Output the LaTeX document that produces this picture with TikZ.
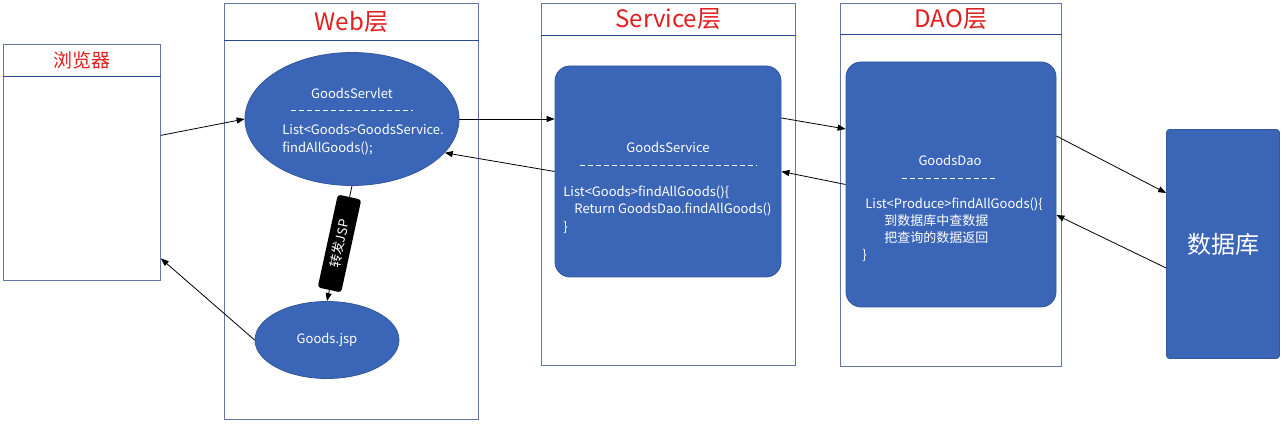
\documentclass[tikz,border=0pt]{standalone}
\usepackage{fontspec}
\setmainfont{Noto Sans CJK SC}
\usetikzlibrary{arrows.meta,shapes.geometric}

\definecolor{boxblue}{RGB}{59,102,184}
\definecolor{lanegray}{RGB}{100,118,168}
\definecolor{headblue}{RGB}{40,72,150}
\definecolor{titlered}{RGB}{226,30,30}

\begin{document}
\begin{tikzpicture}[x=1pt, y=-1pt, >={Triangle[length=8pt,width=6pt]},
  every path/.style={line width=0.8pt},
  lane/.style={draw=lanegray, line width=0.8pt, anchor=north west, inner sep=0pt},
  lanehead/.style={draw=lanegray, line width=0.8pt, anchor=north west, inner sep=0pt, text=titlered, font=\fontsize{24}{24}\selectfont},
  bluebox/.style={fill=boxblue, draw=boxblue!85!black, text=white, inner sep=0pt},
  code/.style={text=white, font=\fontsize{13}{17.5}\selectfont, align=left, anchor=north west, inner sep=0pt},
  dashsep/.style={white, dash pattern=on 5pt off 3pt, line width=0.7pt}]
\useasboundingbox (0,0) rectangle (1284,427);

% lanes
\node (browser) at (3,44) [lane, minimum width=157, minimum height=236] {};
\node (browserhead) at (3,44) [lanehead, minimum width=157, minimum height=32, font=\fontsize{19}{19}\selectfont] {浏览器};
\node (web) at (224,3) [lane, minimum width=254, minimum height=416] {};
\node (webhead) at (224,3) [lanehead, minimum width=254, minimum height=37] {Web层};
\node (service) at (541,3) [lane, minimum width=254, minimum height=362] {};
\node (servicehead) at (541,3) [lanehead, minimum width=254, minimum height=32] {Service层};
\node (dao) at (840,3) [lane, minimum width=221, minimum height=363] {};
\node (daohead) at (840,3) [lanehead, minimum width=221, minimum height=31] {DAO层};
\foreach \h in {browserhead,webhead,servicehead,daohead}
  \draw [headblue, line width=1pt] (\h.south west) -- (\h.south east);

% boxes
\node (servlet) at (352,119) [bluebox, ellipse, minimum width=214, minimum height=133] {};
\node (jsp) at (327,340) [bluebox, ellipse, minimum width=144, minimum height=77, font=\fontsize{13}{13}\selectfont] {Goods.jsp};
\node (goodsservice) at (668,171.5) [bluebox, rounded corners=15pt, minimum width=226, minimum height=211] {};
\node (goodsdao) at (951,184.5) [bluebox, rounded corners=15pt, minimum width=210, minimum height=245] {};
\node (db) at (1223,244) [bluebox, rounded corners=3pt, minimum width=113, minimum height=229, font=\fontsize{24}{24}\selectfont] {数据库};

% texts in the boxes
\node (servlettitle) at (352,93) [text=white, font=\fontsize{13}{13}\selectfont] {GoodsServlet};
\draw [dashsep] (291,110) -- (413,110);
\node (servletcode) at (282,124) [code] {List<Goods>GoodsService.\\findAllGoods();};
\node (servicetitle) at (668,147) [text=white, font=\fontsize{13}{13}\selectfont] {GoodsService};
\draw [dashsep] (580,165) -- (757,165);
\node (servicecode) at (563,185) [code] {List<Goods>findAllGoods()\{\\\hspace*{11pt}Return GoodsDao.findAllGoods()\\\}};
\node (daotitle) at (950,160) [text=white, font=\fontsize{13}{13}\selectfont] {GoodsDao};
\draw [dashsep] (902,178) -- (997,178);
\node (daocode) at (862,197) [code, font=\fontsize{13}{17}\selectfont] {\hspace*{3pt}List<Produce>findAllGoods()\{\\\hspace*{22pt}到数据库中查数据\\\hspace*{22pt}把查询的数据返回\\\}};

% arrows
\draw [->] ([yshift=27pt]browser.east) -> (servlet.west);
\draw [->] (servlet.east) -> (servlet.east -| goodsservice.west);
\draw [->] (goodsservice.west) -> (servlet.-20);
\draw [->] ([yshift=53.5pt]goodsservice.east) -> ([yshift=55.5pt]goodsdao.west);
\draw [->] (goodsdao.west) -> (goodsservice.east);
\draw [->] ([yshift=48.5pt]goodsdao.east) -> ([yshift=51pt]db.west);
\draw [->] ([yshift=-24pt]db.west) -> ([yshift=-30.5pt]goodsdao.east);
\draw [->] (jsp.west) -> ([yshift=-96pt]browser.east);
\draw [->] (servlet.south) -> (jsp.north) node[midway, sloped, fill=black, text=white, rounded corners=3pt, minimum width=95, minimum height=24, inner sep=0pt, font=\fontsize{13}{13}\selectfont] {转发JSP};

\end{tikzpicture}
\end{document}
